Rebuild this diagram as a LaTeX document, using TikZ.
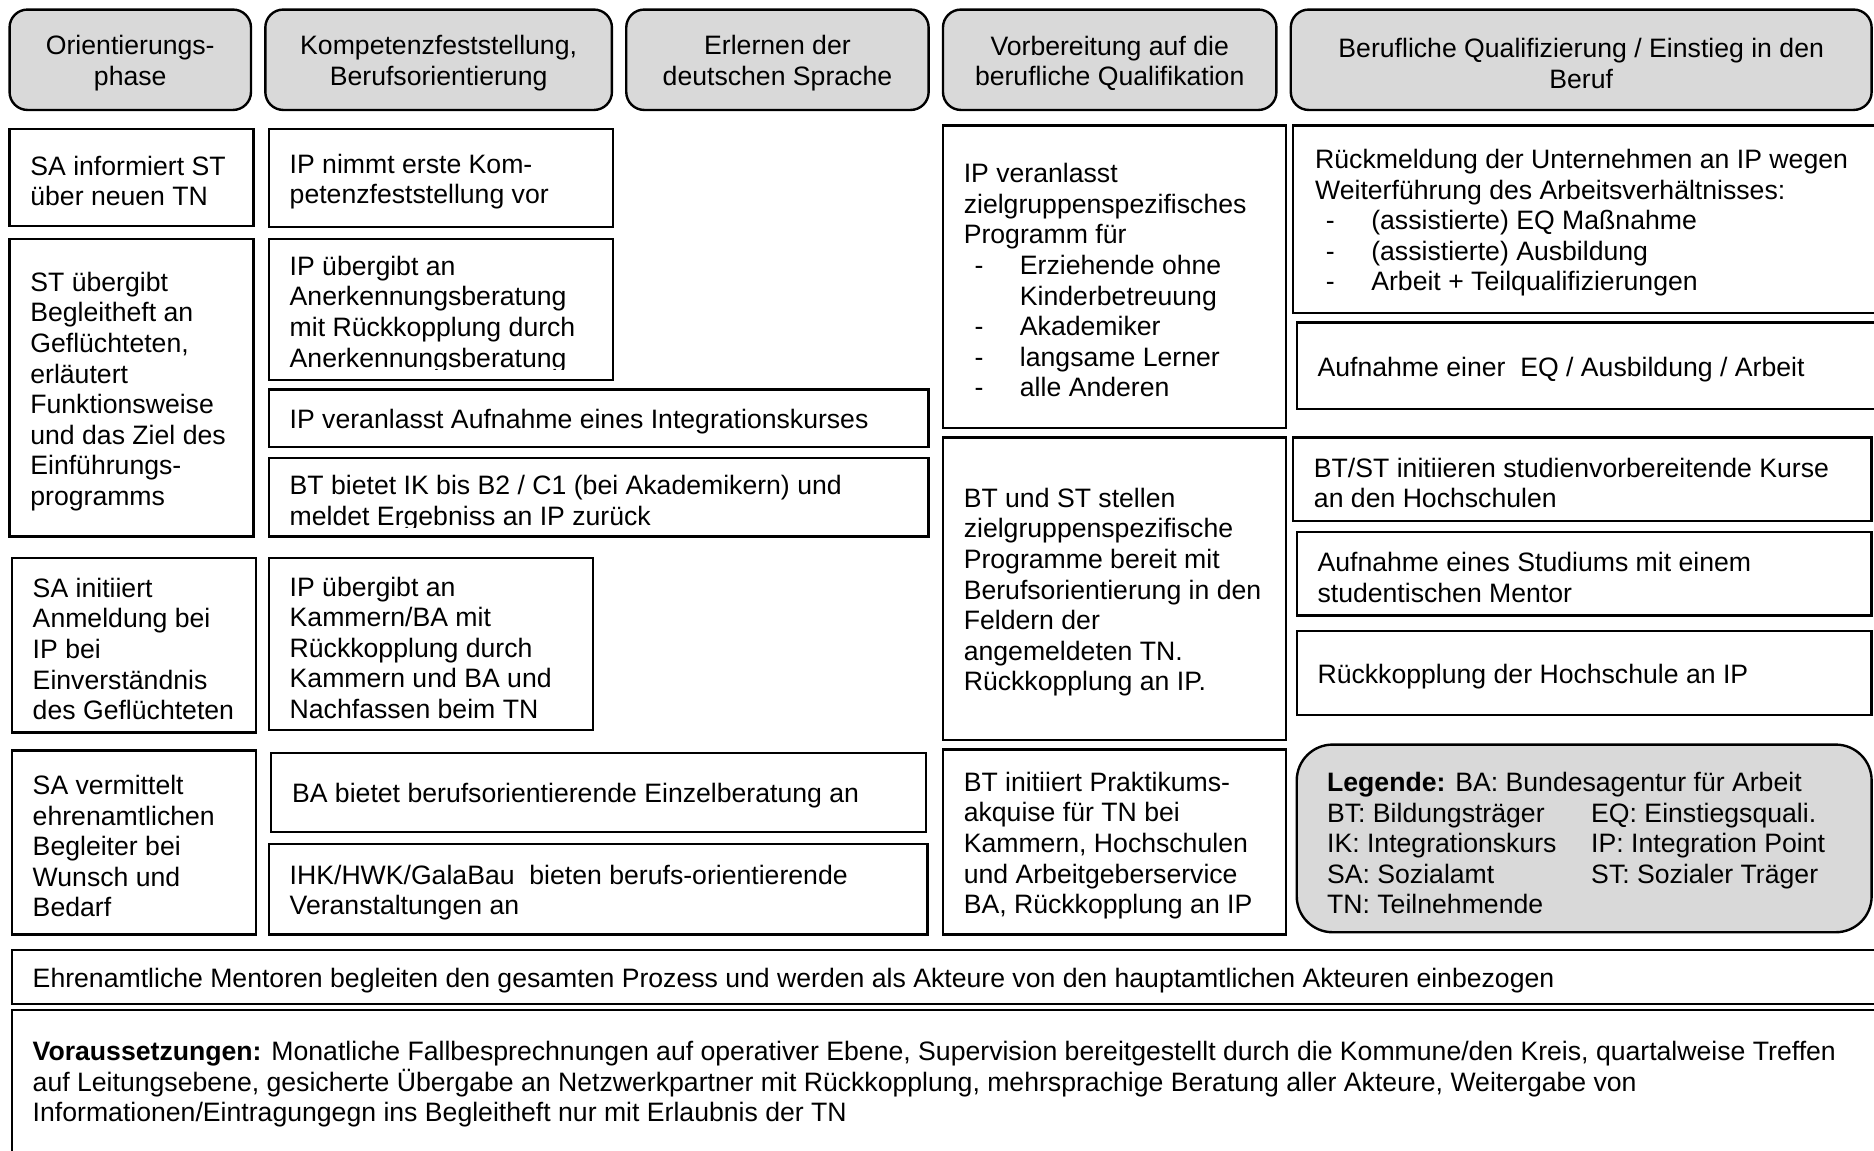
\documentclass[tikz,border=0pt]{standalone}
\usepackage{fontspec}
\setmainfont{Liberation Sans}
\usetikzlibrary{fit}
\definecolor{hdrgray}{HTML}{D9D9D9}
\tikzset{
  boxst/.style={draw=black, line width=1pt, inner sep=0pt, fill=white},
  hdrst/.style={draw=black, line width=1pt, inner sep=0pt, fill=hdrgray, rounded corners=7.5pt},
  legst/.style={draw=black, line width=1pt, inner sep=0pt, fill=hdrgray, rounded corners=15pt},
  txtst/.style={inner sep=0pt, align=left, font=\fontsize{11.14pt}{12.8pt}\selectfont, anchor=west, yshift=-1.5pt},
  hdrtxt/.style={inner sep=0pt, align=center, font=\fontsize{11.14pt}{12.8pt}\selectfont, yshift=-1.5pt},
}
\newcommand\dashit[1]{\makebox[23.5pt][l]{\hspace*{4.5pt}-}#1}
\newcommand\contit[1]{\hspace*{23.5pt}#1}
% name, x1, y1, x2, y2, pad, text
\newcommand\mybox[7]{%
  \node[boxst, fit={(#2,#3) (#4,#5)}] (#1) {};
  \node[txtst] (#1t) at ([xshift=#6]#1.west) {#7};}
\newcommand\myhdr[6]{%
  \node[hdrst, fit={(#2,#3) (#4,#5)}] (#1) {};
  \node[hdrtxt] (#1t) at (#1.center) {#6};}
\begin{document}
\begin{tikzpicture}[x=0.5pt,y=-0.5pt]
\useasboundingbox (0,0) rectangle (1568,963);
\clip (0,0) rectangle (1568,963);
% headers
\myhdr{h1}{8}{8}{210}{92}{Orientierungs-\\phase}
\myhdr{h2}{222}{8}{512}{92}{Kompetenzfeststellung,\\Berufsorientierung}
\myhdr{h3}{524}{8}{777}{92}{Erlernen der\\deutschen Sprache}
\myhdr{h4}{789}{8}{1068}{92}{Vorbereitung auf die\\berufliche Qualifikation}
\myhdr{h5}{1080}{8}{1566}{92}{Berufliche Qualifizierung / Einstieg in den\\Beruf}
% column 1
\mybox{b1}{8}{108}{212}{189}{9pt}{SA informiert ST\\über neuen TN}
\mybox{b2}{8}{200}{212}{449}{9pt}{ST übergibt\\Begleitheft an\\Geflüchteten,\\erläutert\\Funktionsweise\\und das Ziel des\\Einführungs-\\programms}
\mybox{b3}{10}{467}{214}{613}{9pt}{SA initiiert\\Anmeldung bei\\IP bei\\Einverständnis\\des Geflüchteten}
\mybox{b4}{10}{628}{214}{782}{9pt}{SA vermittelt\\ehrenamtlichen\\Begleiter bei\\Wunsch und\\Bedarf}
% column 2
\mybox{c1}{225}{108}{513}{190}{9pt}{IP nimmt erste Kom-\\petenzfeststellung vor}
\node[boxst, fit={(225,200) (513,318)}] (c2) {};
\begin{scope}
\clip ([yshift=5pt]c2.south west) rectangle (c2.north east);
\node[txtst, yshift=-0.5pt] (c2t) at ([xshift=9pt]c2.west) {IP übergibt an\\Anerkennungsberatung\\mit Rückkopplung durch\\Anerkennungsberatung};
\end{scope}
\mybox{c3}{225}{326}{777}{374}{9pt}{IP veranlasst Aufnahme eines Integrationskurses}
\node[boxst, fit={(225,383) (777,449)}] (c4) {};
\begin{scope}
\clip ([yshift=4.5pt]c4.south west) rectangle (c4.north east);
\node[txtst, yshift=-1pt] (c4t) at ([xshift=9pt]c4.west) {BT bietet IK bis B2 / C1 (bei Akademikern) und\\meldet Ergebniss an IP zurück};
\end{scope}
\mybox{c5}{225}{467}{496}{611}{9pt}{IP übergibt an\\Kammern/BA mit\\Rückkopplung durch\\Kammern und BA und\\Nachfassen beim TN}
\mybox{c6}{227}{630}{775}{696}{9pt}{BA bietet berufsorientierende Einzelberatung an}
\mybox{c7}{225}{706}{776}{782}{9pt}{IHK/HWK/GalaBau\ \ bieten berufs-orientierende\\Veranstaltungen an}
% column 4
\mybox{d1}{789}{105}{1076}{358}{9pt}{IP veranlasst\\zielgruppenspezifisches\\Programm für\\\dashit{Erziehende ohne}\\\contit{Kinderbetreuung}\\\dashit{Akademiker}\\\dashit{langsame Lerner}\\\dashit{alle Anderen}}
\mybox{d2}{789}{366}{1076}{619}{9pt}{BT und ST stellen\\zielgruppenspezifische\\Programme bereit mit\\Berufsorientierung in den\\Feldern der\\angemeldeten TN.\\Rückkopplung an IP.}
\mybox{d3}{789}{627}{1076}{782}{9pt}{BT initiiert Praktikums-\\akquise für TN bei\\Kammern, Hochschulen\\und Arbeitgeberservice\\BA, Rückkopplung an IP}
% column 5
\mybox{e1}{1082}{105}{1580}{262}{9.5pt}{Rückmeldung der Unternehmen an IP wegen\\Weiterführung des Arbeitsverhältnisses:\\\dashit{(assistierte) EQ Maßnahme}\\\dashit{(assistierte) Ausbildung}\\\dashit{Arbeit + Teilqualifizierungen}}
\mybox{e2}{1085}{270}{1580}{342}{9pt}{Aufnahme einer\ \ EQ / Ausbildung / Arbeit}
\mybox{e3}{1082}{366}{1566}{436}{9pt}{BT/ST initiieren studienvorbereitende Kurse\\an den Hochschulen}
\mybox{e4}{1085}{445}{1566}{515}{9pt}{Aufnahme eines Studiums mit einem\\studentischen Mentor}
\mybox{e5}{1085}{528}{1566}{598}{9pt}{Rückkopplung der Hochschule an IP}
% legend
\node[legst, fit={(1085,623) (1566,780)}] (leg) {};
\node[txtst, yshift=-0.5pt] (legt) at ([xshift=13pt]leg.west) {\textbf{Legende:} BA: Bundesagentur für Arbeit\\
\makebox[110.5pt][l]{BT: Bildungsträger}EQ: Einstiegsquali.\\
\makebox[110.5pt][l]{IK: Integrationskurs}IP: Integration Point\\
\makebox[110.5pt][l]{SA: Sozialamt}ST: Sozialer Träger\\
TN: Teilnehmende};
% bottom
\mybox{f1}{10}{795}{1580}{840}{9pt}{Ehrenamtliche Mentoren begleiten den gesamten Prozess und werden als Akteure von den hauptamtlichen Akteuren einbezogen}
\node[boxst, fit={(10,845) (1580,967)}] (f2) {};
\node[txtst, anchor=north west] (f2t) at ([xshift=9pt]f2.north west |- 0,868) {\textbf{Voraussetzungen:} Monatliche Fallbesprechnungen auf operativer Ebene, Supervision bereitgestellt durch die Kommune/den Kreis, quartalweise Treffen\\auf Leitungsebene, gesicherte Übergabe an Netzwerkpartner mit Rückkopplung, mehrsprachige Beratung aller Akteure, Weitergabe von\\Informationen/Eintragungegn ins Begleitheft nur mit Erlaubnis der TN};
\end{tikzpicture}
\end{document}
